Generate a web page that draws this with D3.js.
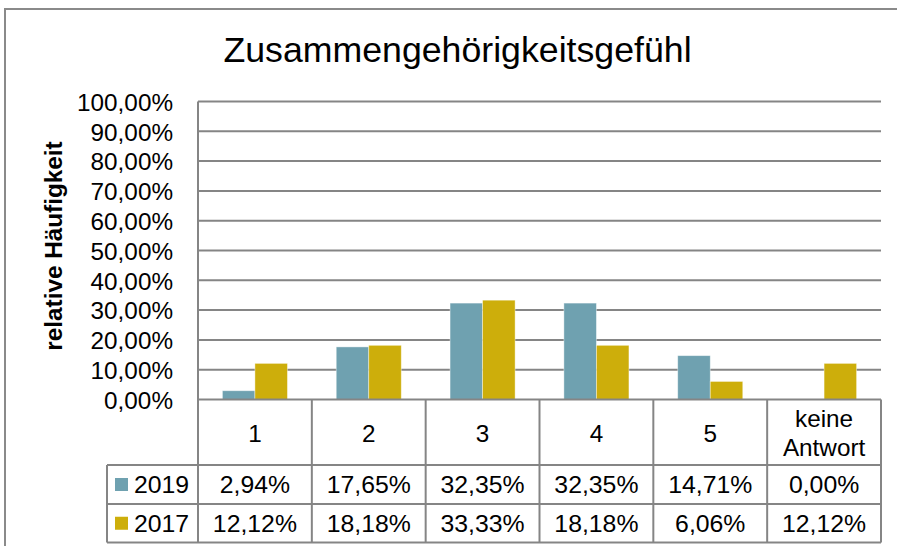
<!DOCTYPE html>
<html lang="de">
  <head>
    <meta charset="UTF-8" />
    <title>Zusammengehörigkeitsgefühl</title>
    <script src="https://cdnjs.cloudflare.com/ajax/libs/d3/7.9.0/d3.min.js"></script>
    <style>
      html, body { margin: 0; padding: 0; background: #fff; }
      svg { display: block; font-family: "Liberation Sans", Arial, sans-serif; }
    </style>
  </head>
  <body>
    <svg id="chart" width="897" height="546"></svg>
    <script>
      /* ---------- data ---------- */
      const categories = ["1", "2", "3", "4", "5", "keine Antwort"];
      const seriesNames = ["2019", "2017"];
      const values2019 = [0.0294, 0.1765, 0.3235, 0.3235, 0.1471, 0.0];
      const values2017 = [0.1212, 0.1818, 0.3333, 0.1818, 0.0606, 0.1212];
      const yTicks = [0, 0.1, 0.2, 0.3, 0.4, 0.5, 0.6, 0.7, 0.8, 0.9, 1.0];
      const colors = ["#6fa1b0", "#cdae0b"];

      const series = [values2019, values2017];

      /* ---------- layout ---------- */
      const plot = { left: 198, right: 881, top: 101.5, bottom: 399.5 };
      const catRowBottom = 465;
      const rowBottoms = [504, 542.5];
      const legendLeft = 107;
      const gridColor = "#858585";
      const fmt = (v) => (v * 100).toFixed(2).replace(".", ",") + "%";

      const svg = d3.select("#chart");

      // outer chart frame (cut off at the right and bottom)
      svg.append("rect")
        .attr("x", 5).attr("y", 9)
        .attr("width", 920).attr("height", 560)
        .attr("fill", "none")
        .attr("stroke", "#8a8a8a")
        .attr("stroke-width", 2);

      // title
      svg.append("text")
        .attr("x", 457.5).attr("y", 62)
        .attr("text-anchor", "middle")
        .attr("font-size", 35.7)
        .attr("fill", "#000")
        .text("Zusammengehörigkeitsgefühl");

      /* ---------- scales ---------- */
      const x = d3.scaleBand()
        .domain(categories)
        .range([plot.left, plot.right])
        .paddingInner(0.4286)
        .paddingOuter(0.2143);

      const xs = d3.scaleBand()
        .domain(seriesNames)
        .range([0, x.bandwidth()]);

      const y = d3.scaleLinear().domain([0, 1]).range([plot.bottom, plot.top]);

      // gridlines
      svg.append("g")
        .selectAll("line")
        .data(yTicks.filter((t) => t > 0))
        .join("line")
        .attr("x1", plot.left).attr("x2", plot.right)
        .attr("y1", (d) => y(d)).attr("y2", (d) => y(d))
        .attr("stroke", gridColor)
        .attr("stroke-width", 2);

      // y axis labels
      const yAxis = svg.append("g")
        .attr("transform", `translate(${plot.left},0)`)
        .call(d3.axisLeft(y).tickValues(yTicks).tickFormat(fmt).tickSize(0).tickPadding(25));
      yAxis.select(".domain").remove();
      yAxis.selectAll("text")
        .attr("font-size", 24.3)
        .attr("font-family", "Liberation Sans, Arial, sans-serif")
        .attr("fill", "#000")
        .attr("dy", "0.36em");

      // y axis title
      svg.append("text")
        .attr("transform", "translate(62,246) rotate(-90)")
        .attr("text-anchor", "middle")
        .attr("font-size", 24.3)
        .attr("font-weight", "bold")
        .attr("fill", "#000")
        .text("relative Häufigkeit");

      /* ---------- bars ---------- */
      const groups = svg.append("g")
        .selectAll("g")
        .data(series)
        .join("g")
        .attr("fill", (d, i) => colors[i]);

      groups.each(function (vals, si) {
        d3.select(this)
          .selectAll("rect")
          .data(vals)
          .join("rect")
          .attr("x", (d, i) => x(categories[i]) + xs(seriesNames[si]))
          .attr("width", xs.bandwidth())
          .attr("y", (d) => y(d))
          .attr("height", (d) => y(0) - y(d))
          .attr("stroke", "rgba(255,255,255,0.5)")
          .attr("stroke-width", 0.8);
      });

      /* ---------- data table ---------- */
      const step = x.step();
      const colEdges = categories.map((c, i) => plot.left + i * step).concat([plot.right]);
      const tbl = svg.append("g")
        .attr("stroke", gridColor)
        .attr("stroke-width", 2);

      // y axis line + table verticals in category row
      colEdges.forEach((cx, i) => {
        tbl.append("line")
          .attr("x1", cx).attr("x2", cx)
          .attr("y1", i === 0 ? plot.top : plot.bottom)
          .attr("y2", rowBottoms[1]);
      });
      // legend column left edge
      tbl.append("line")
        .attr("x1", legendLeft).attr("x2", legendLeft)
        .attr("y1", catRowBottom).attr("y2", rowBottoms[1]);
      // horizontal lines
      tbl.append("line").attr("x1", plot.left).attr("x2", plot.right)
        .attr("y1", plot.bottom).attr("y2", plot.bottom);
      [catRowBottom].concat(rowBottoms).forEach((ry) => {
        tbl.append("line").attr("x1", legendLeft).attr("x2", plot.right)
          .attr("y1", ry).attr("y2", ry);
      });

      // category labels
      const catText = svg.append("g")
        .selectAll("text")
        .data(categories)
        .join("text")
        .attr("text-anchor", "middle")
        .attr("font-size", 24.3)
        .attr("fill", "#000")
        .attr("x", (d) => x(d) + x.bandwidth() / 2);
      catText.each(function (d) {
        const words = d.split(" ");
        const t = d3.select(this);
        if (words.length === 1) {
          t.attr("y", 441.5).text(d);
        } else {
          words.forEach((w, k) => {
            t.append("tspan")
              .attr("x", x(d) + x.bandwidth() / 2)
              .attr("y", 426.5 + k * 29.5)
              .text(w);
          });
        }
      });

      // series rows
      series.forEach((vals, si) => {
        const top = si === 0 ? catRowBottom : rowBottoms[0];
        const mid = (top + rowBottoms[si]) / 2;
        svg.append("rect")
          .attr("x", 115).attr("y", mid - 6.5)
          .attr("width", 13).attr("height", 13)
          .attr("fill", colors[si]);
        svg.append("text")
          .attr("x", 134).attr("y", mid + 8.5)
          .attr("font-size", 24.8)
          .attr("fill", "#000")
          .text(seriesNames[si]);
        svg.append("g")
          .selectAll("text")
          .data(vals)
          .join("text")
          .attr("text-anchor", "middle")
          .attr("font-size", 24.8)
          .attr("fill", "#000")
          .attr("x", (d, i) => x(categories[i]) + x.bandwidth() / 2)
          .attr("y", mid + 8.5)
          .text(fmt);
      });
    </script>
  </body>
</html>
